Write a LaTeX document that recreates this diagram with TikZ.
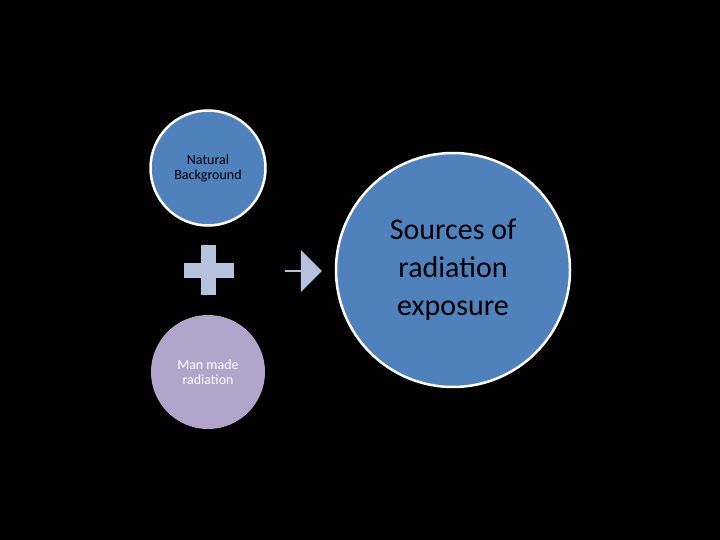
\documentclass[tikz,border=0pt]{standalone}
\usepackage{fontspec}
\setmainfont{Carlito}
\usetikzlibrary{shapes.arrows}
\definecolor{cblue}{HTML}{4F81BD}
\definecolor{clav}{HTML}{B2A5CC}
\definecolor{cpale}{HTML}{B5C3DF}
\begin{document}
\begin{tikzpicture}[x=1pt,y=-1pt,
  circ/.style={circle,draw=white,line width=2.5pt,align=center,text=black}]
\fill[black] (0,0) rectangle (720,540);
\useasboundingbox (0,0) rectangle (720,540);
\node[circ,fill=cblue,minimum size=115pt,font=\fontsize{14}{15}\selectfont] (nat) at (208,168) {Natural\\Background};
\node[circ,fill=clav,draw=none,minimum size=114pt,text=white,font=\fontsize{14}{15}\selectfont] (man) at (208,372) {Man made\\radiation};
\node[circ,fill=cblue,minimum size=234pt,font=\fontsize{30}{38}\selectfont] (src) at (453,270) {Sources of\\radiation\\exposure};
\fill[cpale] (184,263) rectangle (234,278);
\fill[cpale] (201,245) rectangle (216,295);
\node[single arrow,fill=cpale,minimum height=37pt,minimum width=42pt,single arrow head extend=5pt,inner sep=0pt] (arr) at (303,271) {};
\end{tikzpicture}
\end{document}
